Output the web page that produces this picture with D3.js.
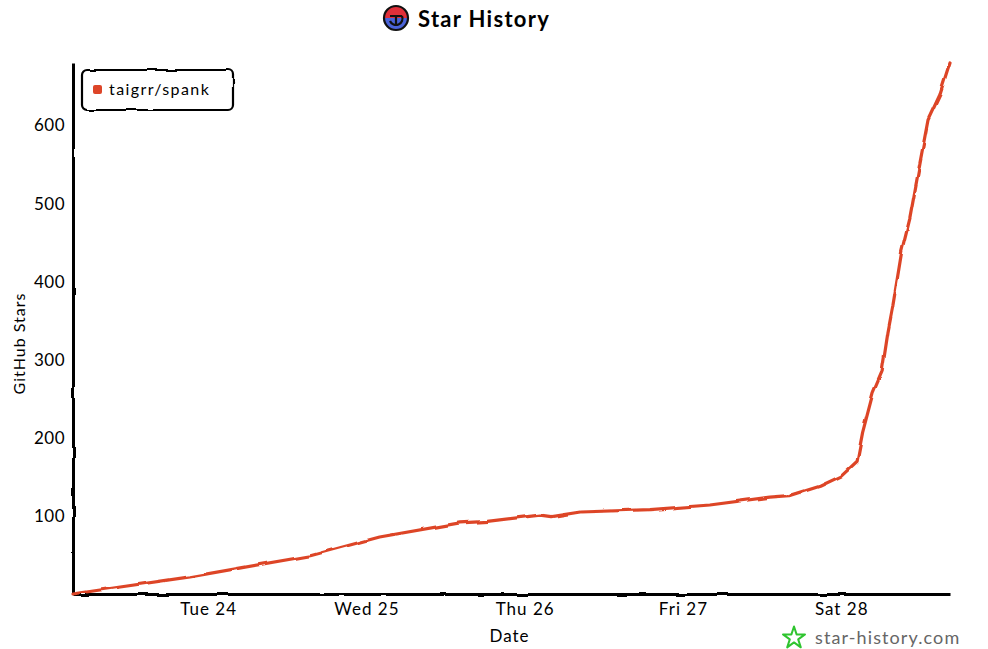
<!DOCTYPE html>
<html>
<head>
<meta charset="utf-8">
<script src="https://cdn.jsdelivr.net/npm/d3@7"></script>
<style>
  html, body { margin: 0; padding: 0; background: #fff; }
  svg { display: block; }
  text { font-family: "Lato", "Open Sans", sans-serif; }
</style>
</head>
<body>
<svg id="chart" width="988" height="649"></svg>
<script>
// ---------- data ----------
const repoName = "taigrr/spank";
const chartTitle = "Star History";
const xAxisLabel = "Date";
const yAxisLabel = "GitHub Stars";
const watermark = "star-history.com";

const dates = [
  "2026-02-23T03:30", "2026-02-23T10:40", "2026-02-23T21:15", "2026-02-24T15:30",
  "2026-02-25T02:00", "2026-02-25T14:10", "2026-02-25T18:20", "2026-02-26T02:20",
  "2026-02-26T04:00", "2026-02-26T08:25", "2026-02-26T19:00", "2026-02-27T04:05",
  "2026-02-27T13:10", "2026-02-27T16:15", "2026-02-27T20:45", "2026-02-28T00:00",
  "2026-02-28T02:25", "2026-02-28T03:15", "2026-02-28T04:50", "2026-02-28T06:10",
  "2026-02-28T07:05", "2026-02-28T07:50", "2026-02-28T09:10", "2026-02-28T10:25",
  "2026-02-28T11:55", "2026-02-28T13:10", "2026-02-28T15:00", "2026-02-28T16:30"
];
const stars = [
  0, 9, 22, 49,
  73, 91, 93, 101,
  99, 105, 108, 114,
  124, 126, 138, 151,
  170, 207, 258, 284,
  335, 369, 438, 481,
  551, 607, 640, 680
];
const yTickValues = [100, 200, 300, 400, 500, 600];

const lineColor = "#dd4528";

// ---------- build ----------
const parse = d3.timeParse("%Y-%m-%dT%H:%M");
const series = dates.map((d, i) => ({ date: parse(d), value: stars[i] }));

const svg = d3.select("#chart");
const margin = { left: 73, right: 38, top: 63, bottom: 55 };
const W = 988, H = 649;
const plotW = W - margin.left - margin.right;
const plotH = H - margin.top - margin.bottom;

// xkcd-like wobble filter
const defs = svg.append("defs");
const filt = defs.append("filter").attr("id", "xkcdify")
  .attr("filterUnits", "userSpaceOnUse").attr("x", -5).attr("y", -5)
  .attr("width", "100%").attr("height", "100%");
filt.append("feTurbulence").attr("type", "fractalNoise")
  .attr("baseFrequency", "0.05").attr("result", "noise");
filt.append("feDisplacementMap").attr("scale", "3.5").attr("xChannelSelector", "R")
  .attr("yChannelSelector", "G").attr("in", "SourceGraphic").attr("in2", "noise");

const x = d3.scaleTime()
  .domain(d3.extent(series, d => d.date))
  .range([0, plotW]);
const y = d3.scaleLinear()
  .domain([0, d3.max(series, d => d.value)])
  .range([plotH, 0]);

const g = svg.append("g").attr("transform", `translate(${margin.left},${margin.top})`);

// x axis
const xAxis = d3.axisBottom(x)
  .ticks(d3.timeDay.every(1))
  .tickFormat(d3.timeFormat("%a %d"))
  .tickSize(0).tickPadding(9);
const gx = g.append("g").attr("transform", `translate(0,${plotH})`).call(xAxis);
gx.select(".domain").attr("stroke", "#000").attr("stroke-width", 3).attr("filter", "url(#xkcdify)");
gx.selectAll("text").attr("font-size", 17).attr("fill", "#000")
  .style("font-family", "Lato, sans-serif").style("letter-spacing", "1px");

// y axis
const yAxis = d3.axisLeft(y).tickValues(yTickValues).tickSize(0).tickPadding(8);
const gy = g.append("g").call(yAxis);
gy.select(".domain").attr("stroke", "#000").attr("stroke-width", 3).attr("filter", "url(#xkcdify)");
gy.selectAll("text").attr("font-size", 17).attr("fill", "#000")
  .style("font-family", "Lato, sans-serif").style("letter-spacing", "0.5px");

// line
const line = d3.line().x(d => x(d.date)).y(d => y(d.value));
g.append("path").datum(series)
  .attr("fill", "none").attr("stroke", lineColor).attr("stroke-width", 3.2)
  .attr("stroke-linejoin", "round").attr("stroke-linecap", "round")
  .attr("filter", "url(#xkcdify)")
  .attr("d", line);

// axis labels
svg.append("text").attr("x", margin.left + plotW / 2 - 2).attr("y", 642)
  .attr("text-anchor", "middle").attr("font-size", 17).attr("fill", "#000")
  .style("font-family", "Lato, sans-serif").style("letter-spacing", "1px").text(xAxisLabel);
svg.append("text").attr("transform", `translate(25,${margin.top + plotH / 2 + 15}) rotate(-90)`)
  .attr("text-anchor", "middle").attr("font-size", 16).attr("fill", "#000")
  .style("font-family", "Lato, sans-serif").style("letter-spacing", "1px").text(yAxisLabel);

// title
const title = svg.append("g");
title.append("text").attr("x", 418).attr("y", 27)
  .attr("font-size", 22).attr("font-weight", "bold").attr("fill", "#000")
  .style("font-family", "Lato, sans-serif").style("letter-spacing", "1.3px").text(chartTitle);
const logo = title.append("g").attr("transform", "translate(396,18)");
logo.append("path").attr("d", d3.arc()({ innerRadius: 0, outerRadius: 12, startAngle: -Math.PI / 2, endAngle: Math.PI / 2 }))
  .attr("fill", "#e0303a");
logo.append("path").attr("d", d3.arc()({ innerRadius: 0, outerRadius: 12, startAngle: Math.PI / 2, endAngle: 3 * Math.PI / 2 }))
  .attr("fill", "#4a63d8");
logo.append("circle").attr("r", 12).attr("fill", "none").attr("stroke", "#111").attr("stroke-width", 2.2);
logo.append("path").attr("d", "M-6,-2 L6,-2 M0,-2 L0,8 M6,-2 A6,6 0 1,1 -6,3")
  .attr("fill", "none").attr("stroke", "#111").attr("stroke-width", 2.2);

// legend
const legend = svg.append("g").attr("transform", "translate(82,70)");
legend.append("rect").attr("width", 151).attr("height", 40).attr("rx", 5)
  .attr("fill", "#fff").attr("stroke", "#000").attr("stroke-width", 2.2)
  .attr("filter", "url(#xkcdify)");
legend.append("rect").attr("x", 11).attr("y", 15).attr("width", 9).attr("height", 9).attr("rx", 2)
  .attr("fill", lineColor);
legend.append("text").attr("x", 27).attr("y", 25).attr("font-size", 16).attr("fill", "#000")
  .style("font-family", "Lato, sans-serif").style("letter-spacing", "1.4px").text(repoName);

// watermark
const wm = svg.append("g");
wm.append("path").attr("transform", "translate(794,638) rotate(0)")
  .attr("d", d3.symbol(d3.symbolStar, 150)())
  .attr("fill", "none").attr("stroke", "#2fc42f").attr("stroke-width", 2)
  .attr("stroke-linejoin", "round");
wm.append("text").attr("x", 815).attr("y", 644).attr("font-size", 18).attr("fill", "#666")
  .style("font-family", "Lato, sans-serif").style("letter-spacing", "1.1px").text(watermark);
</script>
</body>
</html>
